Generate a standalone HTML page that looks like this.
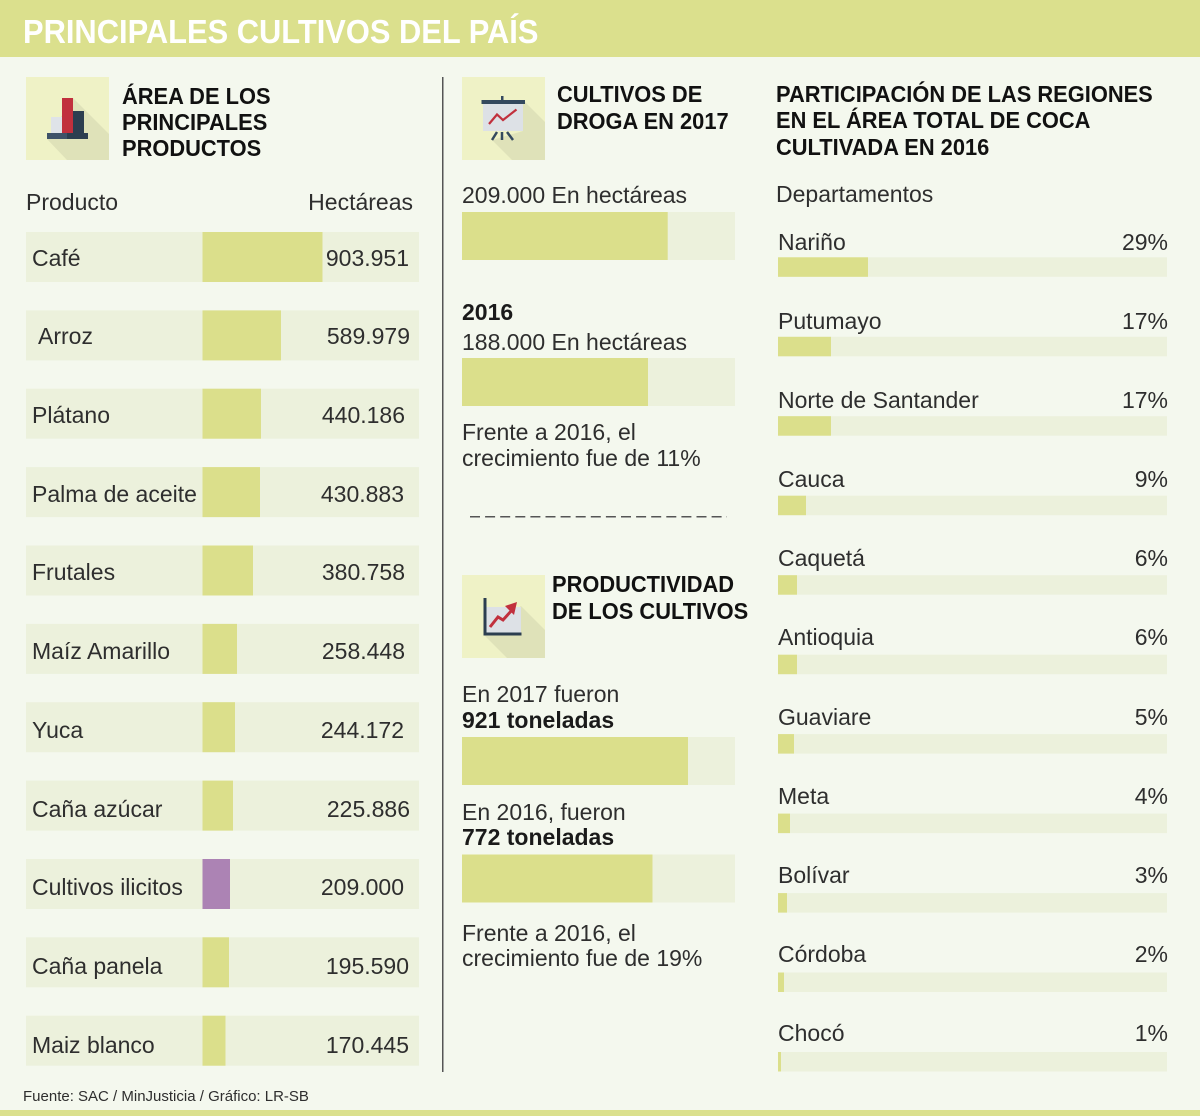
<!DOCTYPE html>
<html><head><meta charset="utf-8">
<style>
html,body{margin:0;padding:0;}
body{width:1200px;height:1116px;background:#f4f8ee;position:relative;overflow:hidden;font-family:"Liberation Sans",sans-serif;color:#2e2e2e;}
.t{position:absolute;white-space:nowrap;line-height:1;font-size:23px;}
.r{text-align:right;}
.h{font-weight:bold;color:#111;transform:scaleX(0.95);transform-origin:left top;}
.b{font-weight:bold;color:#1a1a1a;}
svg{position:absolute;left:0;top:0;}
</style></head><body>
<svg width="1200" height="1116" viewBox="0 0 1200 1116">
<!-- header -->
<rect x="0" y="0" width="1200" height="57" fill="#dbe08d"/>
<rect x="0" y="1110" width="1200" height="6" fill="#dbe08d"/>
<!-- divider -->
<rect x="442" y="77" width="1.5" height="995" fill="#555"/>

<!-- Icon 1 -->
<rect x="26" y="77" width="83" height="83" fill="#eff2c6"/>
<polygon points="73,98 109,134 109,160 67,160 47,139" fill="#dfe2b9"/>
<rect x="51" y="117" width="11" height="16" fill="#dfe3e8"/>
<rect x="62" y="98" width="11" height="35" fill="#c1303d"/>
<rect x="73" y="111" width="11" height="22" fill="#2c3e50"/>
<rect x="47" y="133" width="20" height="6" fill="#3e5268"/>
<rect x="67" y="133" width="21" height="6" fill="#2c3e50"/>

<!-- Icon 2 -->
<rect x="462" y="77" width="83" height="83" fill="#eff2c6"/>
<polygon points="523,100 545,122 545,160 512,160 492,140 523,131" fill="#dfe2b9"/>
<rect x="501" y="96" width="2.5" height="5" fill="#34495e"/>
<rect x="483" y="104" width="40" height="27" fill="#dde1e6"/>
<rect x="481.5" y="100" width="43.5" height="4" fill="#34495e"/>
<polyline points="489,124 497,114.5 503,120 516.5,109.5" fill="none" stroke="#c1303d" stroke-width="2.2"/>
<line x1="497" y1="132" x2="492" y2="140" stroke="#34495e" stroke-width="2.5"/>
<line x1="502" y1="132" x2="502" y2="140" stroke="#34495e" stroke-width="2.5"/>
<line x1="507" y1="132" x2="513" y2="140" stroke="#34495e" stroke-width="2.5"/>

<!-- Icon 3 -->
<rect x="462" y="575" width="83" height="83" fill="#eff2c6"/>
<polygon points="521,606 545,630 545,658 507,658 484,635" fill="#dfe2b9"/>
<rect x="486" y="607" width="35" height="26" fill="#dde1e6"/>
<rect x="483.5" y="598" width="3" height="37" fill="#2c3e50"/>
<rect x="483.5" y="632.5" width="38" height="3" fill="#2c3e50"/>
<polyline points="490,627 498,617 503,620 512,610" fill="none" stroke="#c1303d" stroke-width="3"/>
<polygon points="517,602 505,606 514,615" fill="#c1303d"/>

<!-- Left rows -->
<g fill="#ecf1dc">
<rect x="26" y="232" width="393" height="50"/>
<rect x="26" y="310.4" width="393" height="50"/>
<rect x="26" y="388.7" width="393" height="50"/>
<rect x="26" y="467.1" width="393" height="50"/>
<rect x="26" y="545.5" width="393" height="50"/>
<rect x="26" y="623.9" width="393" height="50"/>
<rect x="26" y="702.2" width="393" height="50"/>
<rect x="26" y="780.6" width="393" height="50"/>
<rect x="26" y="859" width="393" height="50"/>
<rect x="26" y="937.3" width="393" height="50"/>
<rect x="26" y="1015.7" width="393" height="50"/>
</g>
<g fill="#dbdf8b">
<rect x="202.5" y="232" width="120" height="50"/>
<rect x="202.5" y="310.4" width="78.5" height="50"/>
<rect x="202.5" y="388.7" width="58.5" height="50"/>
<rect x="202.5" y="467.1" width="57.5" height="50"/>
<rect x="202.5" y="545.5" width="50.5" height="50"/>
<rect x="202.5" y="623.9" width="34.5" height="50"/>
<rect x="202.5" y="702.2" width="32.5" height="50"/>
<rect x="202.5" y="780.6" width="30.5" height="50"/>
<rect x="202.5" y="937.3" width="26.5" height="50"/>
<rect x="202.5" y="1015.7" width="23" height="50"/>
</g>
<rect x="202.5" y="859" width="27.5" height="50" fill="#ac83b4"/>

<!-- Middle bars -->
<rect x="462" y="212" width="273" height="48" fill="#ecf1dc"/>
<rect x="462" y="212" width="205.7" height="48" fill="#dbdf8b"/>
<rect x="462" y="358" width="273" height="48" fill="#ecf1dc"/>
<rect x="462" y="358" width="186" height="48" fill="#dbdf8b"/>
<line x1="470" y1="516.7" x2="727" y2="516.7" stroke="#555" stroke-width="1.5" stroke-dasharray="10 5.1"/>
<rect x="462" y="737" width="273" height="48" fill="#ecf1dc"/>
<rect x="462" y="737" width="226" height="48" fill="#dbdf8b"/>
<rect x="462" y="854.5" width="273" height="48" fill="#ecf1dc"/>
<rect x="462" y="854.5" width="190.5" height="48" fill="#dbdf8b"/>

<!-- Right bars -->
<g fill="#ecf1dc">
<rect x="778" y="257.3" width="389" height="19.5"/>
<rect x="778" y="336.8" width="389" height="19.5"/>
<rect x="778" y="416.2" width="389" height="19.5"/>
<rect x="778" y="495.7" width="389" height="19.5"/>
<rect x="778" y="575.2" width="389" height="19.5"/>
<rect x="778" y="654.7" width="389" height="19.5"/>
<rect x="778" y="734.1" width="389" height="19.5"/>
<rect x="778" y="813.6" width="389" height="19.5"/>
<rect x="778" y="893.1" width="389" height="19.5"/>
<rect x="778" y="972.5" width="389" height="19.5"/>
<rect x="778" y="1052" width="389" height="19.5"/>
</g>
<g fill="#dbdf8b">
<rect x="778" y="257.3" width="90" height="19.5"/>
<rect x="778" y="336.8" width="53" height="19.5"/>
<rect x="778" y="416.2" width="53" height="19.5"/>
<rect x="778" y="495.7" width="28" height="19.5"/>
<rect x="778" y="575.2" width="19" height="19.5"/>
<rect x="778" y="654.7" width="19" height="19.5"/>
<rect x="778" y="734.1" width="16" height="19.5"/>
<rect x="778" y="813.6" width="12" height="19.5"/>
<rect x="778" y="893.1" width="9" height="19.5"/>
<rect x="778" y="972.5" width="6" height="19.5"/>
<rect x="778" y="1052" width="3" height="19.5"/>
</g>
</svg>

<!-- Title -->
<div class="t" style="left:23px;top:15.4px;font-size:33px;font-weight:bold;color:#fff;transform:scaleX(0.935);transform-origin:left top;">PRINCIPALES CULTIVOS DEL PAÍS</div>

<!-- Left headings -->
<div class="t h" style="left:122px;top:84.5px;">ÁREA DE LOS</div>
<div class="t h" style="left:122px;top:111.2px;">PRINCIPALES</div>
<div class="t h" style="left:122px;top:137.2px;">PRODUCTOS</div>

<div class="t" style="left:26px;top:191.2px;">Producto</div>
<div class="t r" style="right:787px;top:191.2px;">Hectáreas</div>

<!-- Left rows text -->
<div class="t" style="left:32px;top:246.5px;">Café</div>
<div class="t r" style="right:791px;top:246.5px;">903.951</div>
<div class="t" style="left:38px;top:325.2px;">Arroz</div>
<div class="t r" style="right:790px;top:325.2px;">589.979</div>
<div class="t" style="left:32px;top:404px;">Plátano</div>
<div class="t r" style="right:795px;top:404px;">440.186</div>
<div class="t" style="left:32px;top:482.7px;">Palma de aceite</div>
<div class="t r" style="right:796px;top:482.7px;">430.883</div>
<div class="t" style="left:32px;top:561.4px;">Frutales</div>
<div class="t r" style="right:795px;top:561.4px;">380.758</div>
<div class="t" style="left:32px;top:640.2px;">Maíz Amarillo</div>
<div class="t r" style="right:795px;top:640.2px;">258.448</div>
<div class="t" style="left:32px;top:718.9px;">Yuca</div>
<div class="t r" style="right:796px;top:718.9px;">244.172</div>
<div class="t" style="left:32px;top:797.6px;">Caña azúcar</div>
<div class="t r" style="right:790px;top:797.6px;">225.886</div>
<div class="t" style="left:32px;top:876.3px;">Cultivos ilicitos</div>
<div class="t r" style="right:796px;top:876.3px;">209.000</div>
<div class="t" style="left:32px;top:955.1px;">Caña panela</div>
<div class="t r" style="right:791px;top:955.1px;">195.590</div>
<div class="t" style="left:32px;top:1033.8px;">Maiz blanco</div>
<div class="t r" style="right:791px;top:1033.8px;">170.445</div>

<div class="t" style="left:23px;top:1089px;font-size:15px;">Fuente: SAC / MinJusticia / Gráfico: LR-SB</div>

<!-- Middle -->
<div class="t h" style="left:557px;top:83.2px;">CULTIVOS DE</div>
<div class="t h" style="left:557px;top:109.5px;">DROGA EN 2017</div>
<div class="t" style="left:462px;top:183.8px;">209.000 En hectáreas</div>
<div class="t b" style="left:462px;top:300.5px;">2016</div>
<div class="t" style="left:462px;top:330.5px;">188.000 En hectáreas</div>
<div class="t" style="left:462px;top:421.2px;">Frente a 2016, el</div>
<div class="t" style="left:462px;top:447.2px;">crecimiento fue de 11%</div>

<div class="t h" style="left:552px;top:573.2px;">PRODUCTIVIDAD</div>
<div class="t h" style="left:552px;top:599.5px;">DE LOS CULTIVOS</div>
<div class="t" style="left:462px;top:682.8px;">En 2017 fueron</div>
<div class="t b" style="left:462px;top:708.8px;">921 toneladas</div>
<div class="t" style="left:462px;top:800.5px;">En 2016, fueron</div>
<div class="t b" style="left:462px;top:826.2px;">772 toneladas</div>
<div class="t" style="left:462px;top:922.2px;">Frente a 2016, el</div>
<div class="t" style="left:462px;top:946.5px;">crecimiento fue de 19%</div>

<!-- Right -->
<div class="t h" style="left:776px;top:83.2px;">PARTICIPACIÓN DE LAS REGIONES</div>
<div class="t h" style="left:776px;top:109.2px;">EN EL ÁREA TOTAL DE COCA</div>
<div class="t h" style="left:776px;top:135.5px;">CULTIVADA EN 2016</div>
<div class="t" style="left:776px;top:183.2px;">Departamentos</div>

<div class="t" style="left:778px;top:230.5px;">Nariño</div>
<div class="t r" style="right:32px;top:230.5px;">29%</div>
<div class="t" style="left:778px;top:309.7px;">Putumayo</div>
<div class="t r" style="right:32px;top:309.7px;">17%</div>
<div class="t" style="left:778px;top:388.8px;">Norte de Santander</div>
<div class="t r" style="right:32px;top:388.8px;">17%</div>
<div class="t" style="left:778px;top:468px;">Cauca</div>
<div class="t r" style="right:32px;top:468px;">9%</div>
<div class="t" style="left:778px;top:547.2px;">Caquetá</div>
<div class="t r" style="right:32px;top:547.2px;">6%</div>
<div class="t" style="left:778px;top:626.4px;">Antioquia</div>
<div class="t r" style="right:32px;top:626.4px;">6%</div>
<div class="t" style="left:778px;top:705.5px;">Guaviare</div>
<div class="t r" style="right:32px;top:705.5px;">5%</div>
<div class="t" style="left:778px;top:784.7px;">Meta</div>
<div class="t r" style="right:32px;top:784.7px;">4%</div>
<div class="t" style="left:778px;top:863.9px;">Bolívar</div>
<div class="t r" style="right:32px;top:863.9px;">3%</div>
<div class="t" style="left:778px;top:943px;">Córdoba</div>
<div class="t r" style="right:32px;top:943px;">2%</div>
<div class="t" style="left:778px;top:1022.2px;">Chocó</div>
<div class="t r" style="right:32px;top:1022.2px;">1%</div>
</body></html>
